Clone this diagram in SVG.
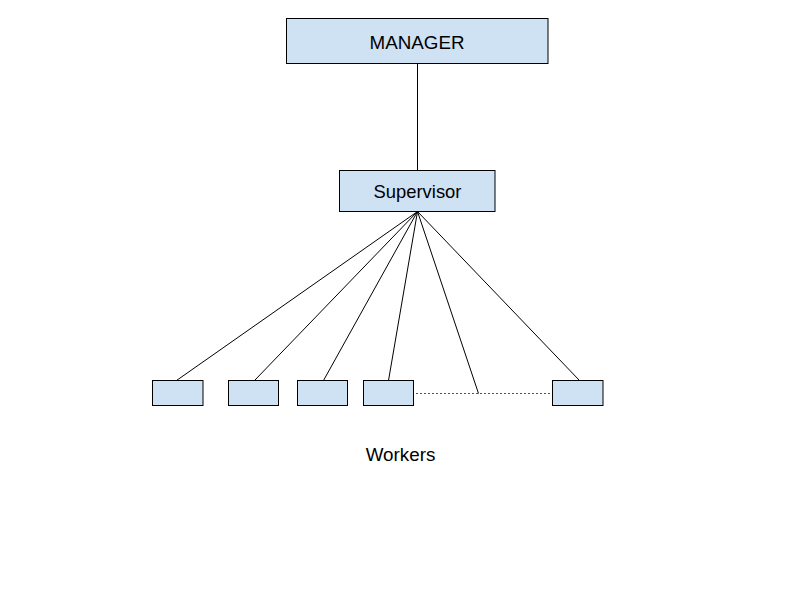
<svg xmlns="http://www.w3.org/2000/svg" width="800" height="600" viewBox="0 0 800 600">
<style>
.box{fill:#cfe2f3;stroke:#000;stroke-width:1}
.ln{stroke:#000;stroke-width:1;fill:none}
.dot{stroke:#555;stroke-width:1;stroke-dasharray:2,2;fill:none}
text{font-family:"Liberation Sans",Arial,sans-serif;fill:#000;text-anchor:middle}
</style>
<rect width="800" height="600" fill="#fff"/>
<g id="connectors">
<line class="ln" x1="417.5" y1="63.5" x2="417.5" y2="170.5"/>
<line class="ln" x1="417.5" y1="211.5" x2="176.5" y2="380.5"/>
<line class="ln" x1="417.5" y1="211.5" x2="254.5" y2="380.5"/>
<line class="ln" x1="417.5" y1="211.5" x2="323.5" y2="380.5"/>
<line class="ln" x1="417.5" y1="211.5" x2="388.5" y2="380.5"/>
<line class="ln" x1="417.5" y1="211.5" x2="478.5" y2="393.5"/>
<line class="ln" x1="417.5" y1="211.5" x2="579.5" y2="380.5"/>
<line class="dot" x1="416" y1="393.5" x2="552" y2="393.5"/>
</g>
<g id="manager">
<rect class="box" x="286.5" y="18.5" width="261.5" height="45"/>
<text x="417" y="48.5" font-size="18.8">MANAGER</text>
</g>
<g id="supervisor">
<rect class="box" x="339.5" y="170.5" width="155.5" height="41"/>
<text x="417.5" y="197.5" font-size="18.4">Supervisor</text>
</g>
<g id="worker1"><rect class="box" x="152.5" y="380.5" width="50.5" height="25"/></g>
<g id="worker2"><rect class="box" x="228.5" y="380.5" width="50" height="25"/></g>
<g id="worker3"><rect class="box" x="297.5" y="380.5" width="50" height="25"/></g>
<g id="worker4"><rect class="box" x="363.5" y="380.5" width="50" height="25"/></g>
<g id="worker5"><rect class="box" x="552.5" y="380.5" width="50.5" height="25"/></g>
<g id="workers-label"><text x="400.5" y="461" font-size="18.8">Workers</text></g>
</svg>
